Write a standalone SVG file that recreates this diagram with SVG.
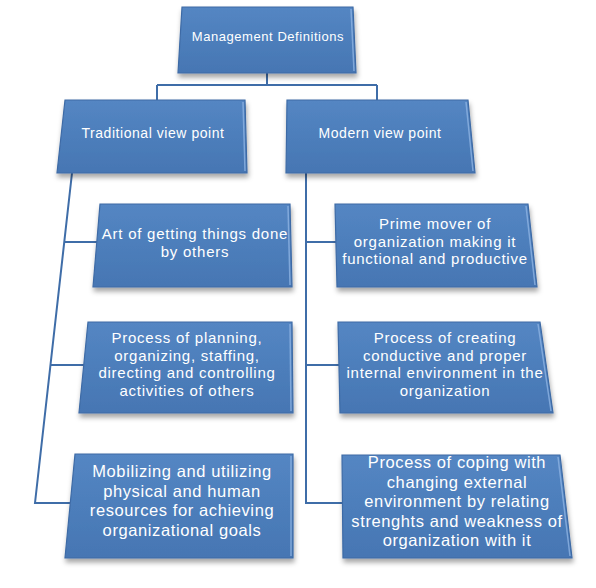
<svg xmlns="http://www.w3.org/2000/svg" width="596" height="588" viewBox="0 0 596 588">
<defs>
<linearGradient id="g" x1="0" y1="0" x2="0" y2="1">
<stop offset="0" stop-color="#5486C3"/>
<stop offset="1" stop-color="#4676B3"/>
</linearGradient>
<filter id="sh" x="-10%" y="-10%" width="120%" height="130%">
<feDropShadow dx="1" dy="4" stdDeviation="2.5" flood-color="#000" flood-opacity="0.35"/>
</filter>
</defs>
<style>
.box{fill:url(#g);stroke:#3E6BA6;stroke-width:1.2;filter:url(#sh)}
.hl{fill:none;stroke:#8DB3E2;stroke-width:1.5;opacity:0.8}
.t{fill:#fff;font-family:"Liberation Sans",Arial,sans-serif;text-anchor:middle}
.s1{font-size:13px;letter-spacing:0.55px}
.s2{font-size:14px;letter-spacing:0.55px}
.s3{font-size:15px;letter-spacing:0.75px}
.s4{font-size:16.5px;letter-spacing:0.6px}
.c{fill:none;stroke:#3F6DA8;stroke-width:2}
</style>
<rect width="596" height="588" fill="#fff"/>
<g id="connectors">
<path class="c" d="M267,73 V85 M157,85 H377 M157,85 V100 M377,85 V100"/>
<path class="c" d="M72,173 L35,503 H70 M64,242 H97 M51,365 H84"/>
<path class="c" d="M306,173 V503 H342 M306,242 H336 M306,365 H339"/>
</g>
<g id="n-root">
<polygon class="box" points="182,7 353,7 356,73 178,73"/>
<path class="hl" d="M351,9 L354,71"/>
<text class="t s1" x="268" y="40.5">Management Definitions</text>
</g>
<g id="n-traditional">
<polygon class="box" points="65,100 245,100 247,173 57,173"/>
<path class="hl" d="M243,102 L245,171"/>
<text class="t s2" x="153" y="137.5">Traditional view point</text>
</g>
<g id="n-modern">
<polygon class="box" points="287,100 468,100 475,173 286,173"/>
<path class="hl" d="M466,102 L473,171"/>
<text class="t s2" x="380" y="137.5">Modern view point</text>
</g>
<g id="n-art">
<polygon class="box" points="100,204 290,204 292,287 93,287"/>
<path class="hl" d="M288,206 L290,285"/>
<text class="t s3" x="195"><tspan x="195" y="239">Art of getting things done</tspan><tspan x="195" y="256.5">by others</tspan></text>
</g>
<g id="n-planning">
<polygon class="box" points="88,322 292,322 293,413 79,413"/>
<path class="hl" d="M290,324 L291,411"/>
<text class="t s3" x="187"><tspan x="187" y="343">Process of planning,</tspan><tspan x="187" y="360.5">organizing, staffing,</tspan><tspan x="187" y="378">directing and controlling</tspan><tspan x="187" y="395.5">activities of others</tspan></text>
</g>
<g id="n-mobilizing">
<polygon class="box" points="75,454 293,454 293,558 65,558"/>
<path class="hl" d="M291,456 L291,556"/>
<text class="t s4" x="182"><tspan x="182" y="477">Mobilizing and utilizing</tspan><tspan x="182" y="496.5">physical and human</tspan><tspan x="182" y="516">resources for achieving</tspan><tspan x="182" y="535.5">organizational goals</tspan></text>
</g>
<g id="n-prime">
<polygon class="box" points="335,204 528,204 537,287 337,287"/>
<path class="hl" d="M526,206 L535,285"/>
<text class="t s3" x="435"><tspan x="435" y="229">Prime mover of</tspan><tspan x="435" y="246.5">organization making it</tspan><tspan x="435" y="264">functional and productive</tspan></text>
</g>
<g id="n-creating">
<polygon class="box" points="338,322 540,322 553,413 340,413"/>
<path class="hl" d="M538,324 L551,411"/>
<text class="t s3" x="445"><tspan x="445" y="343">Process of creating</tspan><tspan x="445" y="360.5">conductive and proper</tspan><tspan x="445" y="378">internal environment in the</tspan><tspan x="445" y="395.5">organization</tspan></text>
</g>
<g id="n-coping">
<polygon class="box" points="342,455 560,455 572,558 343,558"/>
<path class="hl" d="M558,457 L570,556"/>
<text class="t s4" x="457"><tspan x="457" y="468">Process of coping with</tspan><tspan x="457" y="487.5">changing external</tspan><tspan x="457" y="507">environment by relating</tspan><tspan x="457" y="526.5">strenghts and weakness of</tspan><tspan x="457" y="546">organization with it</tspan></text>
</g>
</svg>
